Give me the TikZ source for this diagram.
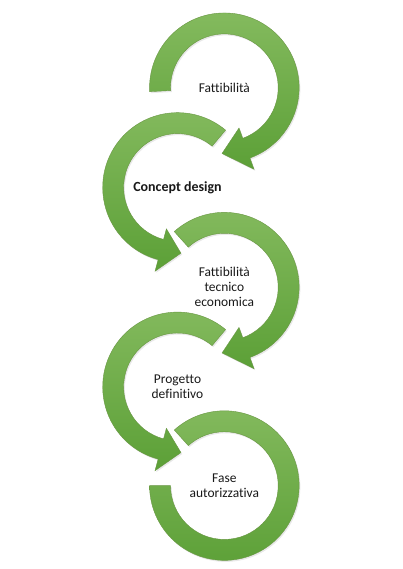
\documentclass[tikz,border=0pt]{standalone}
\usepackage{fontspec}
\setmainfont{Carlito}[Ligatures=NoCommon]
\usepackage{tikz}
\usetikzlibrary{shadows}
\usepackage{xcolor}
\definecolor{ringtop}{RGB}{132,186,94}
\definecolor{ringbot}{RGB}{92,160,55}
\definecolor{ringedge}{RGB}{104,150,66}
% ring with arrow head: centre, start angle, head base angle, tip angle
\newcommand{\ringarrow}[4]{%
    \shade[ringfill] ([shift={(#2:75)}]#1) arc[start angle=#2, end angle=#3, radius=75]
        -- ([shift={(#3:87)}]#1) -- ([shift={(#4:66)}]#1)
        -- ([shift={(#3:43)}]#1) -- ([shift={(#3:54)}]#1)
        arc[start angle=#3, end angle=#2, radius=54] -- cycle;}

\begin{document}
\begin{tikzpicture}[x=1pt,y=1pt,
        ringfill/.style={top color=ringtop,bottom color=ringbot,draw=ringedge,line width=.4pt,
                         drop shadow={opacity=.18,shadow xshift=1.2pt,shadow yshift=-1.5pt}},
        phase/.style={font=\fontsize{13.5}{15}\selectfont,align=center,text=black!90},
        ]
            % Background
            \path[fill=white] (0,0) rectangle (404,569);

            \coordinate (c1) at (225,481);
            \coordinate (c2) at (178,381);
            \coordinate (c3) at (225,281);
            \coordinate (c4) at (178,181);
            \coordinate (c5) at (225,82);

            \ringarrow{c1}{183}{-70}{-92}
            \ringarrow{c2}{50}{255}{273}
            \ringarrow{c3}{132}{-70}{-92}
            \ringarrow{c4}{50}{255}{273}
            \shade[ringfill] ([shift={(132:75)}]c5) arc[start angle=132, end angle=-180, radius=75]
                -- ([shift={(-180:54)}]c5) arc[start angle=-180, end angle=132, radius=54] -- cycle;

            \node[phase] (fatt)    at (c1) {Fattibilità};
            \node[phase,font=\fontsize{14}{16}\selectfont\bfseries] (concept) at (c2) {Concept design};
            \node[phase] (tecn)    at (c3) {Fattibilità\\tecnico\\economica};
            \node[phase] (prog)    at (c4) {Progetto\\definitivo};
            \node[phase] (fase)    at (c5) {Fase\\autorizzativa};
\end{tikzpicture}
\end{document}
